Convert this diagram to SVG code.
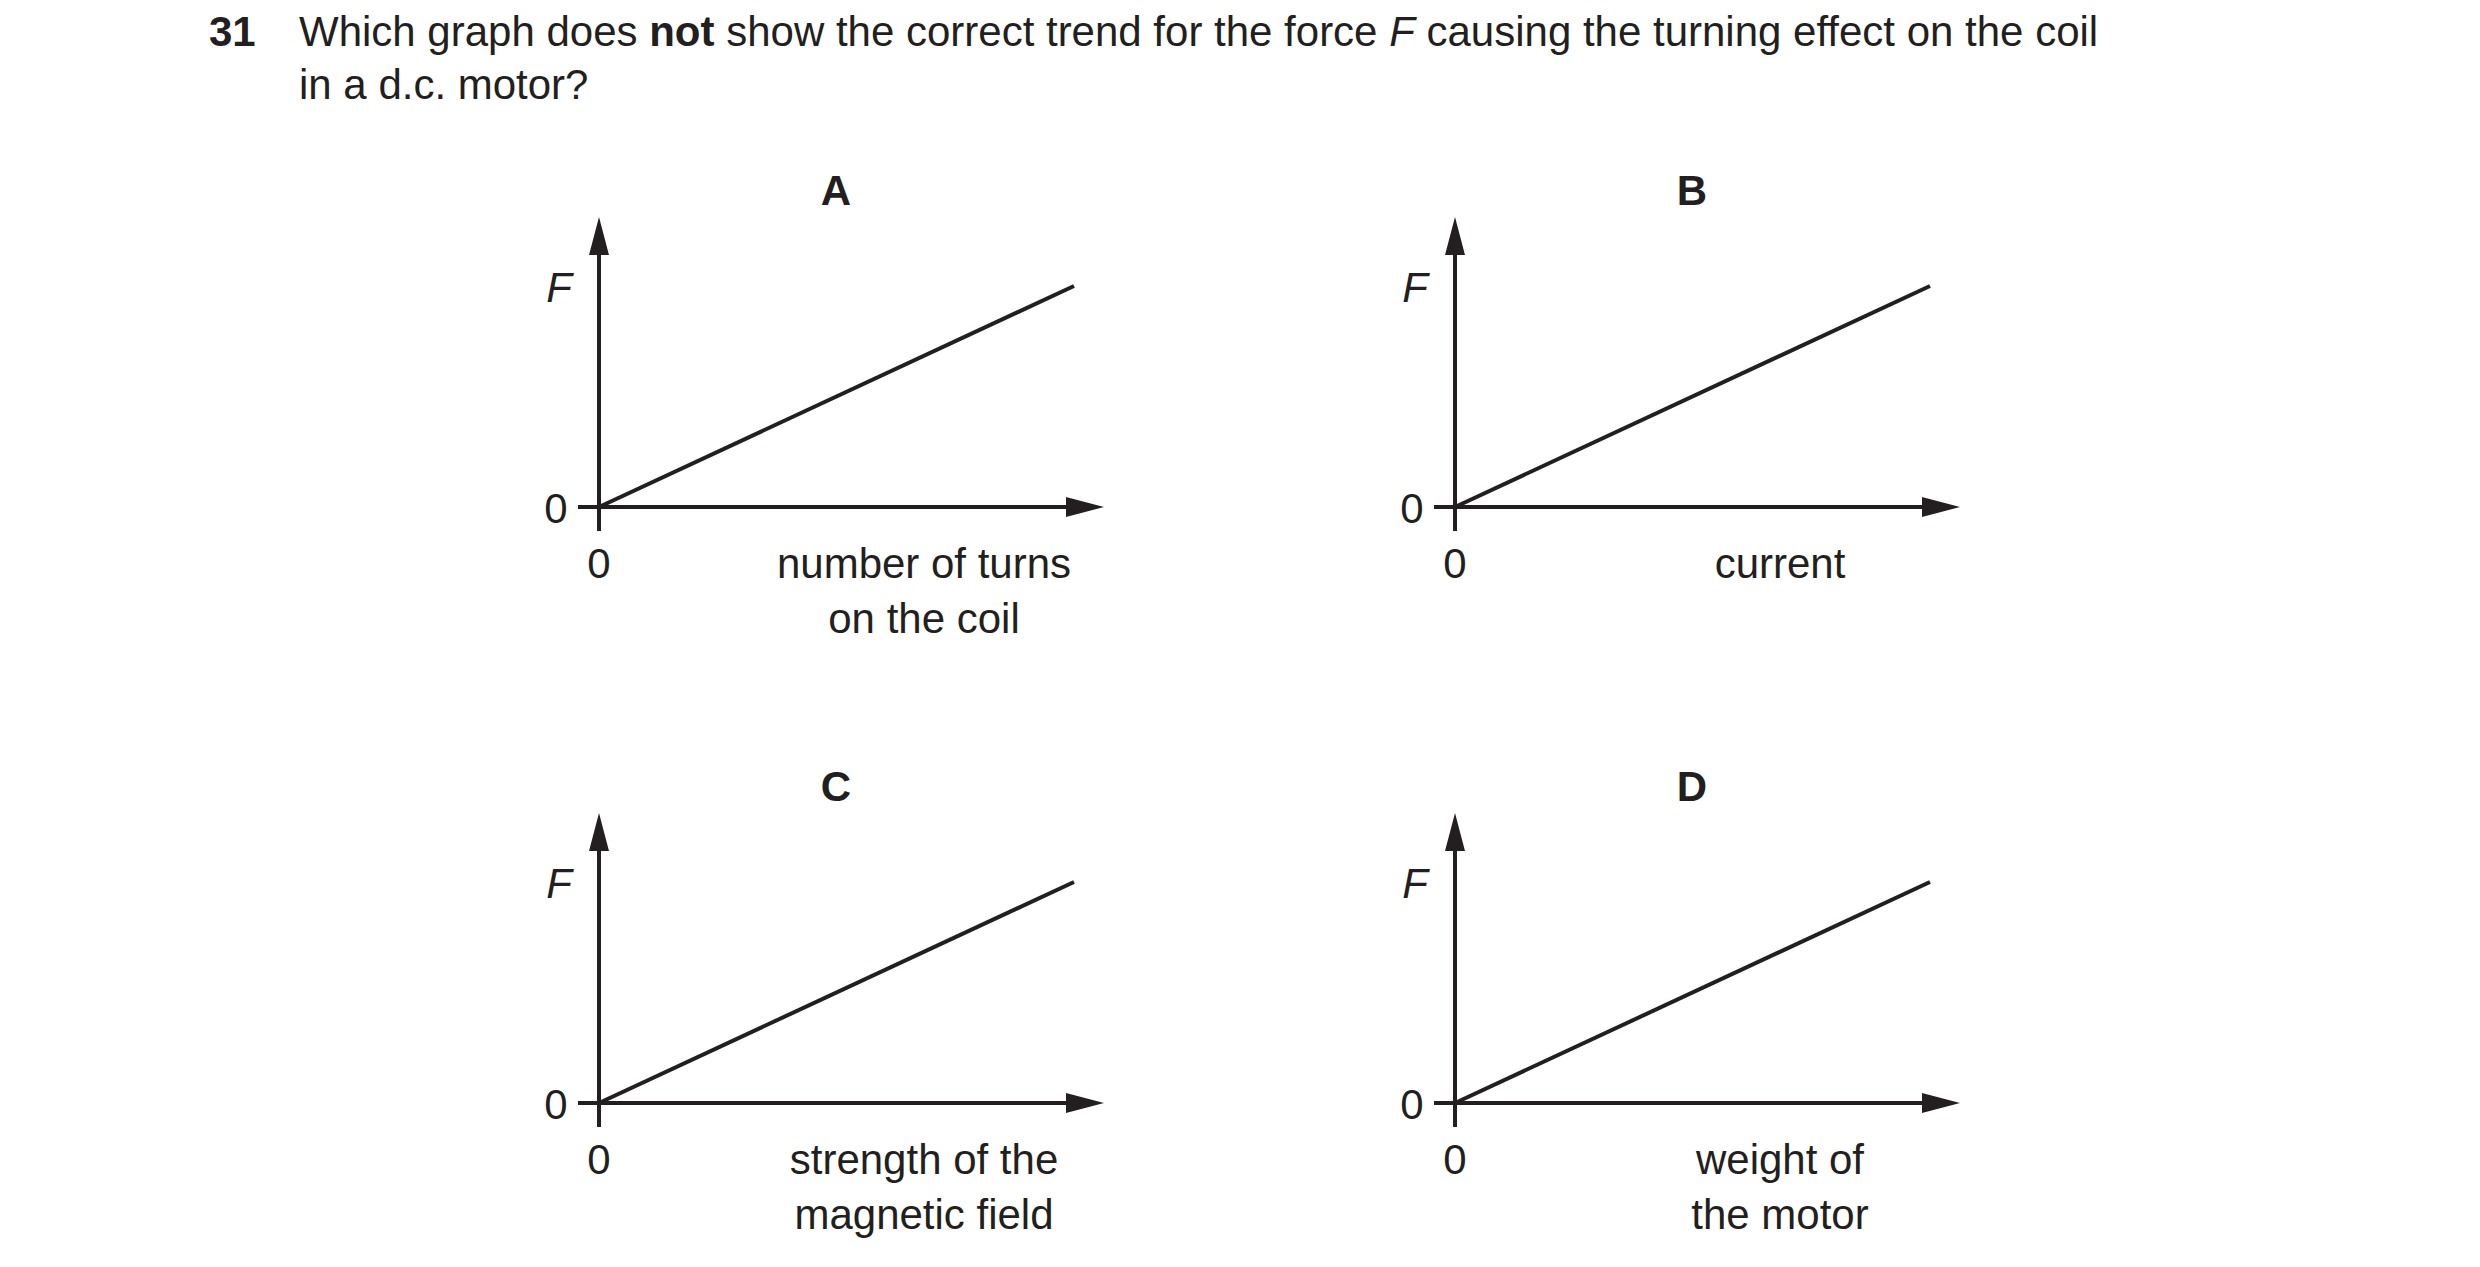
<svg xmlns="http://www.w3.org/2000/svg" width="2480" height="1267" viewBox="0 0 2480 1267">
<style>
text{font-family:"Liberation Sans",Arial,sans-serif;font-size:42px;fill:#231f20}
.c{text-anchor:middle}
.b{font-weight:bold}
.ax{stroke:#231f20;stroke-width:4;fill:none}
.ah{fill:#231f20}
</style>
<defs>
<g id="graph">
<path class="ax" d="M0,0 V-270 M0,0 H475 M-21,0 H0 V24"/>
<path class="ah" d="M0,-290 L-10,-252 L10,-252 Z M505,0 L467,-10 L467,10 Z"/>
<path class="ax" d="M0,0 L475,-221"/>
<text x="-43" y="16" class="c">0</text>
<text x="0" y="71" class="c">0</text>
<text x="-40" y="-205" class="c" font-style="italic">F</text>
</g>
</defs>
<rect width="2480" height="1267" fill="#fff"/>
<g id="title">
<text x="209" y="46" class="b">31</text>
<text x="299" y="46">Which graph does <tspan class="b">not</tspan> show the correct trend for the force <tspan font-style="italic">F</tspan> causing the turning effect on the coil</text>
<text x="299" y="99">in a d.c. motor?</text>
</g>
<g id="graphA">
<text x="836" y="205" class="c b">A</text>
<use href="#graph" x="599" y="507"/>
<text x="924" y="578" class="c">number of turns</text>
<text x="924" y="633" class="c">on the coil</text>
</g>
<g id="graphB">
<text x="1692" y="205" class="c b">B</text>
<use href="#graph" x="1455" y="507"/>
<text x="1780" y="578" class="c">current</text>
</g>
<g id="graphC">
<text x="836" y="801" class="c b">C</text>
<use href="#graph" x="599" y="1103"/>
<text x="924" y="1174" class="c">strength of the</text>
<text x="924" y="1229" class="c">magnetic field</text>
</g>
<g id="graphD">
<text x="1692" y="801" class="c b">D</text>
<use href="#graph" x="1455" y="1103"/>
<text x="1780" y="1174" class="c">weight of</text>
<text x="1780" y="1229" class="c">the motor</text>
</g>
</svg>
